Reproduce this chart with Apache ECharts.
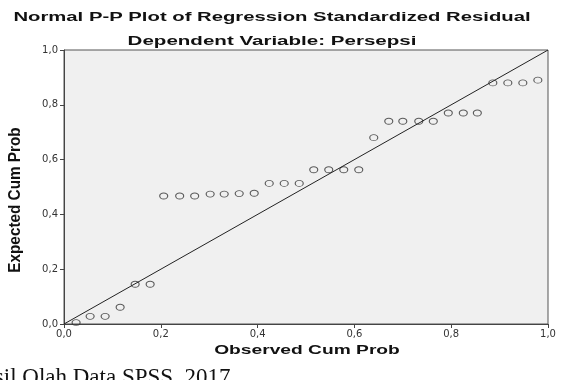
<!DOCTYPE html>
<html>
<head>
<meta charset="utf-8">
<script src="https://cdn.jsdelivr.net/npm/echarts@6/dist/echarts.min.js"></script>
<style>
  html, body { margin: 0; padding: 0; background: #fff; }
  #chart { width: 563px; height: 380px; }
</style>
</head>
<body>
<div id="chart"></div>
<script>
// observed cum prob (x) and expected cum prob (y)
const observed = [
  0.025, 0.054, 0.085, 0.116, 0.147, 0.178,
  0.206, 0.239, 0.27, 0.302, 0.331, 0.362, 0.393,
  0.424, 0.455, 0.486,
  0.516, 0.547, 0.578, 0.609,
  0.64,
  0.671, 0.70, 0.733, 0.763,
  0.794, 0.825, 0.854,
  0.886, 0.917, 0.948, 0.979,
];
const expected = [
  0.005, 0.028, 0.028, 0.061, 0.145, 0.145,
  0.467, 0.467, 0.467, 0.474, 0.474, 0.476, 0.477,
  0.513, 0.513, 0.513,
  0.563, 0.563, 0.563, 0.563,
  0.68,
  0.74, 0.74, 0.74, 0.74,
  0.77, 0.77, 0.77,
  0.88, 0.88, 0.88, 0.89,
];
const refLine = [[0, 0], [1, 1]];

const chart = echarts.init(document.getElementById("chart"));

const fmt = (v) => v.toFixed(1).replace(".", ",");

const axisCommon = {
  type: "value",
  min: 0,
  max: 1,
  interval: 0.2,
  axisLine: { show: true, lineStyle: { color: "#444", width: 1 } },
  axisTick: { show: true, length: 4, lineStyle: { color: "#444" } },
  axisLabel: {
    formatter: fmt,
    color: "#333",
    fontSize: 10,
    fontFamily: "DejaVu Sans",
  },
  splitLine: { show: false },
};

// stretched text, the original uses a wide bold face
const wideText = (text, x, y, size, sx) => ({
  type: "text",
  x,
  y,
  scaleX: sx,
  style: {
    text,
    font: `bold ${size}px 'Liberation Sans', Arial, sans-serif`,
    fill: "#111",
    textAlign: "center",
    textVerticalAlign: "middle",
  },
});

chart.setOption({
  animation: false,
  backgroundColor: "#fff",
  grid: {
    left: 64,
    right: 15,
    top: 50,
    bottom: 56,
    show: true,
    backgroundColor: "#f0f0f0",
    borderColor: "#555",
    borderWidth: 1,
  },
  xAxis: {
    ...axisCommon,
    axisLabel: { ...axisCommon.axisLabel, margin: 5 },
  },
  yAxis: {
    ...axisCommon,
    axisLabel: { ...axisCommon.axisLabel, margin: 6 },
  },
  series: [
    {
      type: "line",
      data: refLine,
      showSymbol: false,
      lineStyle: { color: "#222", width: 1 },
      silent: true,
    },
    {
      type: "scatter",
      data: observed.map((x, i) => [x, expected[i]]),
      symbol: "circle",
      symbolSize: [8, 6],
      itemStyle: { color: "transparent", borderColor: "#333", borderWidth: 1 },
    },
  ],
  graphic: [
    wideText("Normal P-P Plot of Regression Standardized Residual", 272, 17, 13, 1.56),
    wideText("Dependent Variable: Persepsi", 272, 41, 13, 1.58),
    wideText("Observed Cum Prob", 307, 351, 12, 1.6),
    {
      type: "text",
      x: 15,
      y: 200,
      rotation: Math.PI / 2,
      scaleX: 0.9,
      style: {
        text: "Expected Cum Prob",
        font: "bold 17px 'Liberation Sans', Arial, sans-serif",
        fill: "#111",
        textAlign: "center",
        textVerticalAlign: "middle",
      },
    },
    {
      type: "text",
      left: -32,
      top: 366,
      style: {
        text: "Hasil Olah Data SPSS, 2017",
        font: "23px 'Liberation Serif', 'Times New Roman', serif",
        fill: "#111",
      },
    },
  ],
});
</script>
</body>
</html>
